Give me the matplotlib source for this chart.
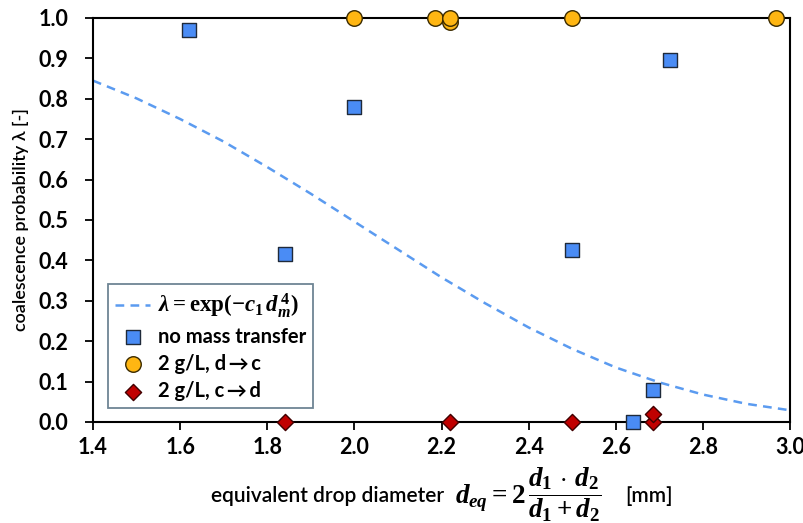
import matplotlib.pyplot as plt
import numpy as np

# fitted model curve
curve_d = [1.4, 1.5, 1.6, 1.7, 1.8, 1.9, 2.0, 2.1, 2.2, 2.3, 2.4, 2.5, 2.6, 2.7, 2.8, 2.9, 3.0]
curve_lam = [0.845, 0.801, 0.750, 0.694, 0.631, 0.565, 0.496, 0.427, 0.358, 0.294,
             0.234, 0.181, 0.135, 0.098, 0.068, 0.045, 0.029]

# no mass transfer
nomt_d = [1.62, 1.84, 2.0, 2.5, 2.64, 2.685, 2.725]
nomt_lam = [0.97, 0.415, 0.78, 0.425, 0.0, 0.08, 0.895]

# 2 g/L, d -> c
dc_d = [2.0, 2.185, 2.22, 2.22, 2.5, 2.968]
dc_lam = [1.0, 1.0, 0.99, 1.0, 1.0, 1.0]

# 2 g/L, c -> d
cd_d = [1.84, 2.22, 2.5, 2.685, 2.685]
cd_lam = [0.0, 0.0, 0.0, 0.0, 0.02]

xticks = [1.4, 1.6, 1.8, 2.0, 2.2, 2.4, 2.6, 2.8, 3.0]
yticks = [0.0, 0.1, 0.2, 0.3, 0.4, 0.5, 0.6, 0.7, 0.8, 0.9, 1.0]

plt.rcParams['font.family'] = ['Lato', 'DejaVu Sans']
plt.rcParams['mathtext.fontset'] = 'custom'
plt.rcParams['mathtext.rm'] = 'Liberation Serif:bold'
plt.rcParams['mathtext.it'] = 'Liberation Serif:italic:bold'
plt.rcParams['mathtext.bf'] = 'Liberation Serif:bold'

W, H = 804, 523
fig = plt.figure(figsize=(W / 100, H / 100), dpi=100)
ax = fig.add_axes([93 / W, 1 - 422 / H, 697 / W, 404 / H])

ax.plot(curve_d, curve_lam, ls=(0, (3.5, 2.5)), color='#5b9bf0', lw=1.8,
        label=r'$\lambda = \mathrm{exp}(-c_1\, d_m^{\,4})$', zorder=2)
ax.scatter(nomt_d, nomt_lam, marker='s', s=110, color='#4a8cf5', edgecolors='#1f2a3a',
           linewidths=1.0, label='no mass transfer', zorder=3, clip_on=False)
ax.scatter(dc_d, dc_lam, marker='o', s=125, color='#ffb612', edgecolors='#3a2a00',
           linewidths=1.0, label='2 g/L, d\u2009\u2192\u2009c', zorder=4, clip_on=False)
ax.scatter(cd_d, cd_lam, marker='D', s=68, color='#c00000', edgecolors='#400000',
           linewidths=1.0, label='2 g/L, c\u2009\u2192\u2009d', zorder=5, clip_on=False)

ax.set_xlim(1.4, 3.0)
ax.set_ylim(0.0, 1.0)
ax.set_xticks(xticks)
ax.set_yticks(yticks)
ax.set_xticklabels([f'{v:.1f}' for v in xticks], fontweight='bold', fontsize=15.5)
ax.set_yticklabels([f'{v:.1f}' for v in yticks], fontweight='bold', fontsize=15.5)
ax.tick_params(direction='out', length=6, width=1.3, color='black')
ax.tick_params(axis='y', pad=12)
ax.tick_params(axis='x', pad=5)

for sp in ax.spines.values():
    sp.set_linewidth(1.5)
    sp.set_color('black')

ax.set_ylabel('coalescence probability \u03bb [-]', fontsize=13, fontweight='semibold')
ax.yaxis.set_label_coords(-(93 - 29) / 697, 0.5)

# x label built from pieces so the formula can be larger than the words
fig.text(211 / W, 1 - 502 / H, 'equivalent drop diameter', fontsize=15,
         fontweight='semibold', ha='left', va='baseline')
fig.text(455 / W, 1 - 495 / H, r'$d_{eq} = 2\,\dfrac{d_1\, \cdot\, d_2}{d_1 + d_2}$', fontsize=19.5,
         ha='left', va='center')
fig.text(625 / W, 1 - 502 / H, '[mm]', fontsize=15, fontweight='semibold',
         ha='left', va='baseline')

leg = ax.legend(loc='lower left', bbox_to_anchor=(0.022, 0.035), frameon=True, fancybox=False,
                edgecolor='#6e8594', framealpha=1, borderpad=0.35, handlelength=1.7,
                handletextpad=0.4, labelspacing=0.35, borderaxespad=0,
                prop={'weight': 'bold', 'size': 14.5})
leg.get_frame().set_linewidth(1.3)
leg.get_texts()[0].set_fontsize(16.5)

fig.savefig('out.png', dpi=100)
